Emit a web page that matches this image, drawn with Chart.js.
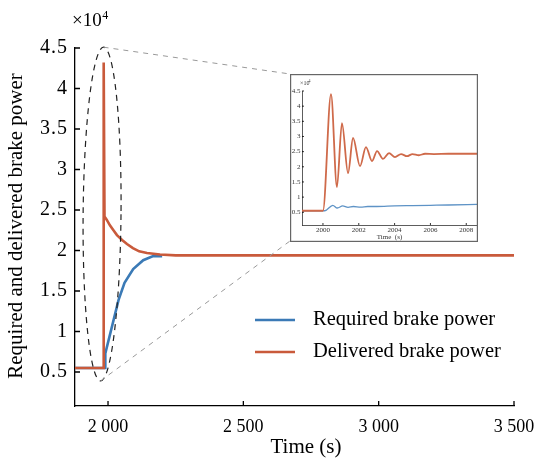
<!DOCTYPE html>
<html lang="en">
<head>
<meta charset="UTF-8">
<title>Brake power</title>
<script src="https://cdn.jsdelivr.net/npm/chart.js@4/dist/chart.umd.min.js"></script>
<style>
  html, body { margin: 0; padding: 0; background: #fff; }
  #wrap { position: relative; width: 537px; height: 463px; }
  #main { position: absolute; left: 0; top: 0; }
  #inset { position: absolute; left: 290px; top: 74px; background: #fff; }
</style>
</head>
<body>
<div id="wrap">
  <canvas id="main" width="537" height="463"></canvas>
  <canvas id="inset" width="188" height="168"></canvas>
</div>
<script>
// main plot data (power in 10^4 units)
const requiredTime  = [1878, 1990, 1990, 2039, 2061, 2093, 2130, 2167, 2200];
const requiredPower = [0.55, 0.55, 0.73, 1.39, 1.60, 1.77, 1.88, 1.93, 1.93];
const deliveredTime  = [1878, 1984, 1984, 1987, 1995, 2007, 2020, 2033, 2052, 2070, 2092, 2115, 2144, 2192, 2250, 3500];
const deliveredPower = [0.55, 0.55, 4.32, 2.42, 2.38, 2.31, 2.25, 2.19, 2.13, 2.08, 2.03, 1.99, 1.97, 1.95, 1.94, 1.94];
const mainXTicks = [2000, 2500, 3000, 3500];
const mainYTicks = [0.5, 1, 1.5, 2, 2.5, 3, 3.5, 4, 4.5];

// zoomed inset data
const insetReqTime  = [1998.83, 2000.1, 2000.55, 2000.8, 2001.1, 2001.4, 2001.7, 2002.1, 2002.5, 2003, 2004, 2005, 2006, 2007, 2008.6];
const insetReqPower = [0.55, 0.55, 0.73, 0.64, 0.71, 0.66, 0.69, 0.67, 0.69, 0.69, 0.71, 0.72, 0.73, 0.74, 0.76];
const insetDelTime  = [1998.83, 2000.0, 2000.45, 2000.78, 2001.06, 2001.40, 2001.68, 2002.07, 2002.40, 2002.74, 2003.02, 2003.35, 2003.69, 2004.02, 2004.36, 2004.69, 2005.0, 2005.35, 2005.7, 2006.2, 2007, 2008.6];
const insetDelPower = [0.55, 0.55, 4.40, 1.33, 3.44, 1.79, 2.95, 2.02, 2.65, 2.19, 2.52, 2.26, 2.45, 2.32, 2.42, 2.35, 2.42, 2.38, 2.43, 2.42, 2.43, 2.43];
const insetXTicks = [2000, 2002, 2004, 2006, 2008];

const BLUE = '#3b7ab6';
const ORANGE = '#c95a3b';
const SERIF = "'Liberation Serif', 'Times New Roman', serif";

// zoom ellipse in data units: centre, half width (s), half height
const zoomEllipse = { t: 1978, p: 2.45, dt: 70, dp: 2.06, tilt: 0.009 };
const insetBox = { left: 290, top: 74, width: 188, height: 168 };

function pts(xs, ys) { return xs.map((x, i) => ({ x: x, y: ys[i] })); }
function fixTicks(list) { return s => { s.ticks = list.map(v => ({ value: v })); }; }

// right aligned text with a bit of extra letter spacing
function spacedRight(ctx, text, right, y, gap) {
    const ws = [...text].map(c => ctx.measureText(c).width);
    let x = right - ws.reduce((s, w) => s + w, 0) - gap * (ws.length - 1);
    [...text].forEach((c, i) => { ctx.fillText(c, x, y); x += ws[i] + gap; });
}

const mainDecor = {
    id: 'mainDecor',
    afterDraw(chart) {
        const ctx = chart.ctx, x = chart.scales.x, y = chart.scales.y, a = chart.chartArea;
        ctx.save();
        // inward ticks
        ctx.strokeStyle = '#000'; ctx.lineWidth = 1.3;
        ctx.beginPath();
        mainXTicks.forEach(v => { const px = x.getPixelForValue(v); ctx.moveTo(px, a.bottom); ctx.lineTo(px, a.bottom - 5); });
        mainYTicks.forEach(v => { const py = y.getPixelForValue(v); ctx.moveTo(a.left, py); ctx.lineTo(a.left + 5, py); });
        ctx.stroke();

        // y tick labels
        ctx.fillStyle = '#000';
        ctx.font = '20px ' + SERIF;
        ctx.textAlign = 'left'; ctx.textBaseline = 'middle';
        mainYTicks.forEach(v => spacedRight(ctx, String(v), a.left - 8, y.getPixelForValue(v), 1));

        // x10^4
        ctx.textBaseline = 'alphabetic'; ctx.textAlign = 'left';
        ctx.font = '19px ' + SERIF;
        ctx.fillText('\u00d710', 72, 26);
        const w = ctx.measureText('\u00d710').width;
        ctx.font = '12px ' + SERIF;
        ctx.fillText('4', 72 + w + 0.5, 19);

        // axis titles
        ctx.font = '21px ' + SERIF;
        ctx.textAlign = 'center'; ctx.textBaseline = 'middle';
        ctx.fillText('Time (s)', 306, 447);
        ctx.save();
        ctx.translate(16, 226);
        ctx.rotate(-Math.PI / 2);
        ctx.fillText('Required and delivered brake power', 0, 0);
        ctx.restore();

        // legend
        const items = [['Required brake power', BLUE, 320], ['Delivered brake power', ORANGE, 352]];
        ctx.textAlign = 'left';
        ctx.font = '20.5px ' + SERIF;
        items.forEach(it => {
            ctx.strokeStyle = it[1]; ctx.lineWidth = 2.6;
            ctx.beginPath(); ctx.moveTo(255, it[2]); ctx.lineTo(295, it[2]); ctx.stroke();
            ctx.fillStyle = '#000';
            ctx.fillText(it[0], 313, it[2]);
        });

        // dashed zoom ellipse
        const cx = x.getPixelForValue(zoomEllipse.t), cy = y.getPixelForValue(zoomEllipse.p);
        const rx = x.getPixelForValue(zoomEllipse.t + zoomEllipse.dt) - cx;
        const ry = cy - y.getPixelForValue(zoomEllipse.p + zoomEllipse.dp);
        ctx.strokeStyle = '#222'; ctx.lineWidth = 1.2; ctx.setLineDash([6, 5]);
        ctx.beginPath(); ctx.ellipse(cx, cy, rx, ry, zoomEllipse.tilt, 0, Math.PI * 2); ctx.stroke();

        // connectors to the inset
        const topX = cx + ry * Math.sin(zoomEllipse.tilt), topY = cy - ry;
        const botX = cx - ry * Math.sin(zoomEllipse.tilt), botY = cy + ry;
        ctx.strokeStyle = '#999'; ctx.lineWidth = 1; ctx.setLineDash([5, 5]);
        ctx.beginPath();
        ctx.moveTo(topX, topY); ctx.lineTo(insetBox.left, insetBox.top);
        ctx.moveTo(botX, botY); ctx.lineTo(insetBox.left, insetBox.top + insetBox.height - 1);
        ctx.stroke();
        ctx.restore();
    }
};

new Chart(document.getElementById('main'), {
    type: 'line',
    data: {
        datasets: [
            { label: 'Delivered brake power', data: pts(deliveredTime, deliveredPower), borderColor: ORANGE, borderWidth: 2.6, pointRadius: 0, order: 0 },
            { label: 'Required brake power', data: pts(requiredTime, requiredPower), borderColor: BLUE, borderWidth: 2.6, pointRadius: 0, order: 1 }
        ]
    },
    options: {
        responsive: false, animation: false,
        layout: { padding: { left: 0, top: 48, right: 23, bottom: 0 } },
        plugins: { legend: { display: false }, tooltip: { enabled: false } },
        scales: {
            x: {
                type: 'linear', min: 1878, max: 3500,
                afterBuildTicks: fixTicks(mainXTicks),
                afterFit: s => { s.height = 57; },
                grid: { display: false },
                border: { color: '#000', width: 1.3 },
                ticks: { color: '#000', font: { family: SERIF, size: 18 }, padding: 2, maxRotation: 0,
                         callback: v => String(v).replace(/(\d)(?=\d{3}$)/, '$1 ') }
            },
            y: {
                min: 0.08, max: 4.5,
                afterBuildTicks: fixTicks(mainYTicks),
                afterFit: s => { s.width = 75; },
                grid: { display: false },
                border: { color: '#000', width: 1.3 },
                ticks: { display: false }
            }
        }
    },
    plugins: [mainDecor]
});

const insetDecor = {
    id: 'insetDecor',
    afterDraw(chart) {
        const ctx = chart.ctx, x = chart.scales.x, y = chart.scales.y, a = chart.chartArea;
        ctx.save();
        ctx.strokeStyle = '#000'; ctx.lineWidth = 0.8;
        ctx.beginPath();
        insetXTicks.forEach(v => { const px = x.getPixelForValue(v); ctx.moveTo(px, a.bottom); ctx.lineTo(px, a.bottom - 2); });
        mainYTicks.forEach(v => { const py = y.getPixelForValue(v); ctx.moveTo(a.left, py); ctx.lineTo(a.left + 2, py); });
        ctx.stroke();

        ctx.fillStyle = '#333';
        ctx.font = '7px ' + SERIF; ctx.textBaseline = 'middle';
        ctx.textAlign = 'right';
        mainYTicks.forEach(v => ctx.fillText(String(v), a.left - 1.5, y.getPixelForValue(v)));
        ctx.textAlign = 'center';
        insetXTicks.forEach(v => ctx.fillText(String(v), x.getPixelForValue(v), a.bottom + 5));
        ctx.fillText('Time  (s)', (a.left + a.right) / 2, 163);

        ctx.textAlign = 'left'; ctx.textBaseline = 'alphabetic';
        ctx.font = '6px ' + SERIF;
        ctx.fillText('\u00d710', 10, 11);
        ctx.font = '4px ' + SERIF;
        ctx.fillText('4', 18.5, 8);
        // frame
        ctx.strokeStyle = '#666'; ctx.lineWidth = 1.2;
        ctx.strokeRect(0.6, 0.6, chart.width - 1.2, chart.height - 1.2);
        ctx.restore();
    }
};

new Chart(document.getElementById('inset'), {
    type: 'line',
    data: {
        datasets: [
            { data: pts(insetDelTime, insetDelPower), borderColor: '#cf6a4a', borderWidth: 1.8, pointRadius: 0, cubicInterpolationMode: 'monotone', order: 0 },
            { data: pts(insetReqTime, insetReqPower), borderColor: '#5e93c6', borderWidth: 1.3, pointRadius: 0, cubicInterpolationMode: 'monotone', order: 1 }
        ]
    },
    options: {
        responsive: false, animation: false,
        layout: { padding: { left: 0, top: 17, right: 1, bottom: 0 } },
        plugins: { legend: { display: false }, tooltip: { enabled: false } },
        scales: {
            x: {
                type: 'linear', min: 1998.83, max: 2008.6,
                afterBuildTicks: fixTicks(insetXTicks),
                afterFit: s => { s.height = 17; },
                grid: { display: false },
                border: { color: '#333', width: 0.8 },
                ticks: { display: false }
            },
            y: {
                min: 0.08, max: 4.5,
                afterBuildTicks: fixTicks(mainYTicks),
                afterFit: s => { s.width = 12; },
                grid: { display: false },
                border: { color: '#333', width: 0.8 },
                ticks: { display: false }
            }
        }
    },
    plugins: [insetDecor]
});
</script>
</body>
</html>
